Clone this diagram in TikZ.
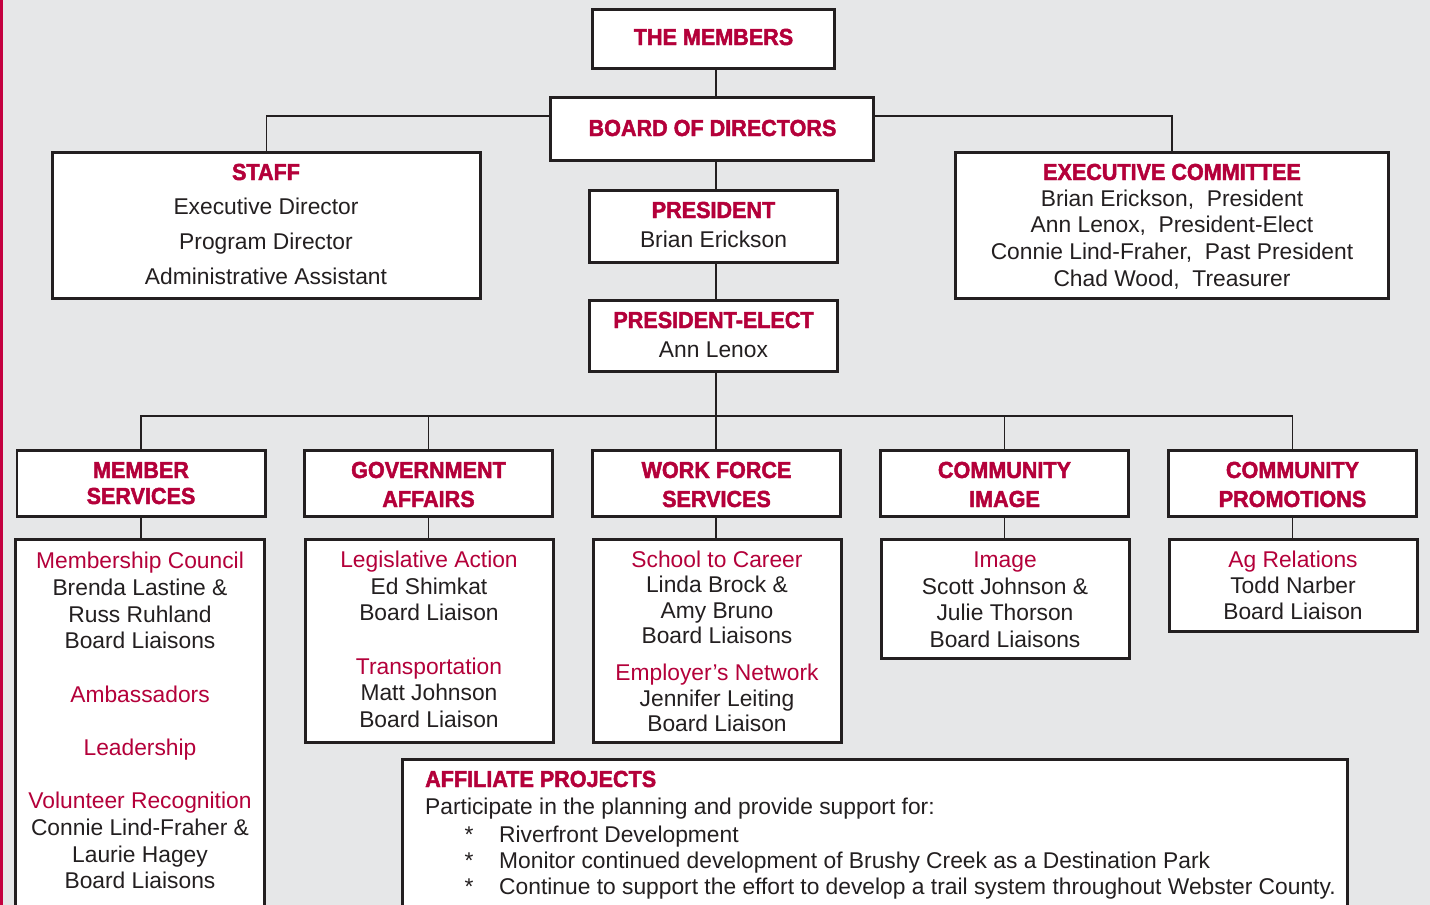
\documentclass[tikz,border=0pt]{standalone}
\usepackage{fontspec}
\setmainfont{Liberation Sans}
\newfontfamily\hvyfont[FakeStretch=0.93, BoldFeatures={FakeBold=2}]{Liberation Sans}
\definecolor{bgc}{HTML}{E6E7E8}
\definecolor{ink}{HTML}{231F20}
\definecolor{crim}{HTML}{B4003A}
\definecolor{barc}{HTML}{C4003F}
\newcommand\mybody{\fontsize{22.8}{27}\selectfont}
\newcommand\myhdr{\hvyfont\bfseries\fontsize{23.2}{26}\selectfont}
\tikzset{
  box/.style={draw=ink, line width=2.7pt, fill=white, inner sep=0pt},
  conn/.style={draw=ink, line width=1.3pt},
  tl/.style={anchor=base, inner sep=0pt, font=\mybody, text=ink},
  rl/.style={tl, text=crim},
  hl/.style={anchor=base, inner sep=0pt, font=\myhdr, text=crim},
}
\begin{document}
\begin{tikzpicture}[x=1pt,y=-1pt]
\fill[bgc] (0,0) rectangle (1430,905);
\useasboundingbox (0,0) rectangle (1430,905);
\clip (0,0) rectangle (1430,905);
\fill[barc] (0,0) rectangle (2.7,905);

\coordinate (spine) at (716,0);
\coordinate (topbus) at (0,116);
\coordinate (bus) at (0,416);

% boxes
\node[box, minimum width=242.3pt, minimum height=59.3pt] (members) at (713.5,39) {};
\node[box, minimum width=323.3pt, minimum height=63.3pt] (board) at (712,129) {};
\node[box, minimum width=428.3pt, minimum height=146.3pt] (staff) at (266.5,225.5) {};
\node[box, minimum width=433.3pt, minimum height=146.3pt] (exec) at (1172,225.5) {};
\node[box, minimum width=248.3pt, minimum height=72.3pt] (pres) at (713.5,226.5) {};
\node[box, minimum width=248.3pt, minimum height=71.3pt] (prel) at (713.5,336) {};

\node[box, minimum width=248.3pt, minimum height=66.3pt] (ms) at (141,483.5) {};
\node[box, minimum width=248.3pt, minimum height=66.3pt] (ga) at (428.5,483.5) {};
\node[box, minimum width=248.3pt, minimum height=66.3pt] (wf) at (716.5,483.5) {};
\node[box, minimum width=248.3pt, minimum height=66.3pt] (ci) at (1004.5,483.5) {};
\node[box, minimum width=248.3pt, minimum height=66.3pt] (cp) at (1292.5,483.5) {};

\node[box, minimum width=249.3pt, minimum height=384.3pt] (mss) at (140,731.5) {};
\node[box, minimum width=248.3pt, minimum height=203.3pt] (gas) at (429.5,641) {};
\node[box, minimum width=248.3pt, minimum height=203.3pt] (wfs) at (717.5,641) {};
\node[box, minimum width=248.3pt, minimum height=119.3pt] (cis) at (1005.5,599) {};
\node[box, minimum width=248.3pt, minimum height=92.3pt] (cps) at (1293.5,585.5) {};
\node[box, minimum width=945.3pt, minimum height=164.3pt] (aff) at (875,841.5) {};

% connectors
\draw[conn] (members.south -| spine) -- (board.north -| spine);
\draw[conn] (board.west |- topbus) -| (staff.north);
\draw[conn] (board.east |- topbus) -| (exec.north);
\draw[conn] (board.south -| spine) -- (pres.north -| spine);
\draw[conn] (pres.south -| spine) -- (prel.north -| spine);
\draw[conn] (prel.south -| spine) -- (wf.north -| spine);
\draw[conn] (ms.north) -- (ms.north |- bus) -- (cp.north |- bus) -- (cp.north);
\draw[conn] (ga.north) -- (ga.north |- bus);
\draw[conn] (ci.north) -- (ci.north |- bus);
\draw[conn] (ms.south) -- (ms.south |- mss.north);
\draw[conn] (ga.south) -- (ga.south |- gas.north);
\draw[conn] (wf.south -| spine) -- (wfs.north -| spine);
\draw[conn] (ci.south) -- (ci.south |- cis.north);
\draw[conn] (cp.south) -- (cp.south |- cps.north);

% texts
\node[hl] (t-members) at (713.5,45) {THE MEMBERS};
\node[hl] (t-board) at (712.5,136) {BOARD OF DIRECTORS};

\node[hl] (t-staff) at (266,180) {STAFF};
\node[tl] (t-staff1) at (266,214) {Executive Director};
\node[tl] (t-staff2) at (266,249) {Program Director};
\node[tl] (t-staff3) at (266,284) {Administrative Assistant};

\node[hl] (t-exec) at (1172,180) {EXECUTIVE COMMITTEE};
\node[tl] (t-exec1) at (1172,206) {Brian Erickson,\ \ President};
\node[tl] (t-exec2) at (1172,232.7) {Ann Lenox,\ \ President-Elect};
\node[tl] (t-exec3) at (1172,259.3) {Connie Lind-Fraher,\ \ Past President};
\node[tl] (t-exec4) at (1172,286) {Chad Wood,\ \ Treasurer};

\node[hl] (t-pres) at (713.5,218) {PRESIDENT};
\node[tl] (t-pres1) at (713.5,247) {Brian Erickson};
\node[hl] (t-prel) at (713.5,328) {PRESIDENT-ELECT};
\node[tl] (t-prel1) at (713.5,357) {Ann Lenox};

\node[hl] (t-ms1) at (141,478) {MEMBER};
\node[hl] (t-ms2) at (141,504) {SERVICES};
\node[hl] (t-ga1) at (428.5,478) {GOVERNMENT};
\node[hl] (t-ga2) at (428.5,507) {AFFAIRS};
\node[hl] (t-wf1) at (716.5,478) {WORK FORCE};
\node[hl] (t-wf2) at (716.5,507) {SERVICES};
\node[hl] (t-ci1) at (1004.5,478) {COMMUNITY};
\node[hl] (t-ci2) at (1004.5,507) {IMAGE};
\node[hl] (t-cp1) at (1292.5,478) {COMMUNITY};
\node[hl] (t-cp2) at (1292.5,507) {PROMOTIONS};

\node[rl] (s-ms1) at (140,568) {Membership Council};
\node[tl] (s-ms2) at (140,595) {Brenda Lastine \&};
\node[tl] (s-ms3) at (140,622) {Russ Ruhland};
\node[tl] (s-ms4) at (140,648) {Board Liaisons};
\node[rl] (s-ms5) at (140,702) {Ambassadors};
\node[rl] (s-ms6) at (140,755) {Leadership};
\node[rl] (s-ms7) at (140,808) {Volunteer Recognition};
\node[tl] (s-ms8) at (140,835) {Connie Lind-Fraher \&};
\node[tl] (s-ms9) at (140,862) {Laurie Hagey};
\node[tl] (s-ms10) at (140,888) {Board Liaisons};

\node[rl] (s-ga1) at (429,567) {Legislative Action};
\node[tl] (s-ga2) at (429,594) {Ed Shimkat};
\node[tl] (s-ga3) at (429,620) {Board Liaison};
\node[rl] (s-ga4) at (429,674) {Transportation};
\node[tl] (s-ga5) at (429,700) {Matt Johnson};
\node[tl] (s-ga6) at (429,727) {Board Liaison};

\node[rl] (s-wf1) at (717,567) {School to Career};
\node[tl] (s-wf2) at (717,592) {Linda Brock \&};
\node[tl] (s-wf3) at (717,618) {Amy Bruno};
\node[tl] (s-wf4) at (717,643) {Board Liaisons};
\node[rl] (s-wf5) at (717,680) {Employer’s Network};
\node[tl] (s-wf6) at (717,706) {Jennifer Leiting};
\node[tl] (s-wf7) at (717,731) {Board Liaison};

\node[rl] (s-ci1) at (1005,567) {Image};
\node[tl] (s-ci2) at (1005,594) {Scott Johnson \&};
\node[tl] (s-ci3) at (1005,620) {Julie Thorson};
\node[tl] (s-ci4) at (1005,647) {Board Liaisons};

\node[rl] (s-cp1) at (1293,567) {Ag Relations};
\node[tl] (s-cp2) at (1293,593) {Todd Narber};
\node[tl] (s-cp3) at (1293,619) {Board Liaison};

\node[hl, anchor=base west] (a-title) at (425,787) {AFFILIATE PROJECTS};
\node[tl, anchor=base west] (a-intro) at (425,814) {Participate in the planning and provide support for:};
\node[tl] (a-b1) at (469,842) {*};
\node[tl] (a-b2) at (469,868) {*};
\node[tl] (a-b3) at (469,894) {*};
\node[tl, anchor=base west] (a-i1) at (499,842) {Riverfront Development};
\node[tl, anchor=base west] (a-i2) at (499,868) {Monitor continued development of Brushy Creek as a Destination Park};
\node[tl, anchor=base west] (a-i3) at (499,894) {Continue to support the effort to develop a trail system throughout Webster County.};
\end{tikzpicture}
\end{document}
